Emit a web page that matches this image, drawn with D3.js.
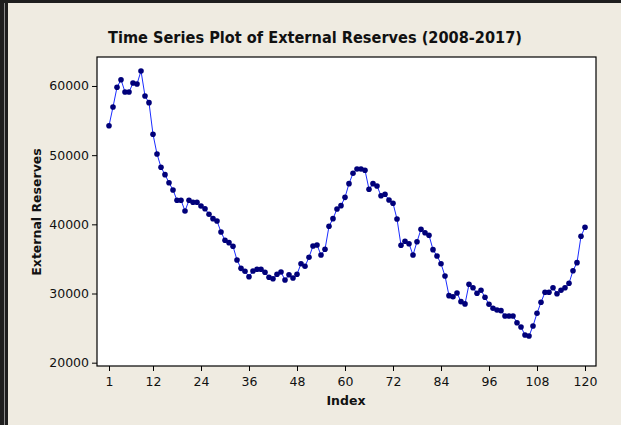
<!DOCTYPE html>
<html>
<head>
<meta charset="utf-8">
<script src="https://cdn.jsdelivr.net/npm/d3@7"></script>
<style>
  body { margin: 0; background: #efebe1; }
  svg { display: block; }
</style>
</head>
<body>
<div id="chart"></div>
<script>
// Monthly external reserves, index 1..120 (2008-2017)
const reserves = [
  54260, 56960, 59810, 60910, 59130, 59130, 60430, 60290, 62170, 58550,
  57590, 53020, 50170, 48250, 47180, 46020, 44970, 43480, 43480, 41930,
  43480, 43190, 43190, 42650, 42260, 41450, 40820, 40480, 38890, 37690,
  37350, 36830, 34850, 33640, 33210, 32430, 33260, 33500, 33500, 33070,
  32350, 32140, 32780, 33110, 31950, 32720, 32240, 32780, 34310, 33930,
  35240, 36870, 37010, 35570, 36390, 39720, 40820, 42220, 42700, 43900,
  45880, 47380, 48000, 48000, 47810, 45070, 45880, 45540, 44140, 44340,
  43520, 43040, 40770, 36970, 37550, 37200, 35570, 37490, 39280, 38790,
  38420, 36340, 35420, 34310, 32530, 29690, 29540, 30080, 28820, 28500,
  31330, 30840, 30030, 30470, 29450, 28440, 27860, 27620, 27520, 26750,
  26750, 26750, 25780, 25160, 24000, 23860, 25310, 27140, 28730, 30180,
  30180, 30840, 29970, 30470, 30840, 31480, 33300, 34460, 38270, 39570
];
const xTicks = [1, 12, 24, 36, 48, 60, 72, 84, 96, 108, 120];
const yTicks = [20000, 30000, 40000, 50000, 60000];

const data = reserves.map((v, i) => ({ index: i + 1, value: v }));

const width = 621, height = 425;
const plot = { left: 97, right: 596, top: 57, bottom: 366 };

const svg = d3.select("#chart")
  .append("svg")
  .attr("width", width)
  .attr("height", height);

// background + frame
svg.append("rect")
  .attr("width", width).attr("height", height)
  .attr("fill", "#efebe1");
svg.append("rect")
  .attr("x", 0).attr("y", 0).attr("width", 8).attr("height", height)
  .attr("fill", "#1e1e1e");
svg.append("line")
  .attr("x1", 4.5).attr("x2", 4.5).attr("y1", 3).attr("y2", height)
  .attr("stroke", "#8a8a8a").attr("stroke-width", 1);
svg.append("line")
  .attr("x1", 0).attr("x2", width).attr("y1", 1.5).attr("y2", 1.5)
  .attr("stroke", "#1e1e1e").attr("stroke-width", 3);

// Scales
const x = d3.scaleLinear()
  .domain([-2, 122.75])
  .range([plot.left, plot.right]);

const y = d3.scaleLinear()
  .domain([19520, 64190])
  .range([plot.bottom, plot.top]);

// plot box
svg.append("rect")
  .attr("x", plot.left).attr("y", plot.top)
  .attr("width", plot.right - plot.left)
  .attr("height", plot.bottom - plot.top)
  .attr("fill", "#ffffff")
  .attr("stroke", "#000").attr("stroke-width", 1.2);

// Axes
const font = "Tahoma, 'DejaVu Sans', Verdana, sans-serif";

const xAxis = svg.append("g")
  .attr("transform", `translate(0,${plot.bottom})`)
  .call(d3.axisBottom(x).tickValues(xTicks).tickSize(5).tickSizeOuter(0));
xAxis.select(".domain").remove();
xAxis.selectAll("text")
  .attr("font-family", font).attr("font-size", 12.5).attr("fill", "#111")
  .attr("dy", "0.95em");

const yAxis = svg.append("g")
  .attr("transform", `translate(${plot.left},0)`)
  .call(d3.axisLeft(y).tickValues(yTicks).tickSize(5).tickSizeOuter(0).tickFormat(d3.format("d")));
yAxis.select(".domain").remove();
yAxis.selectAll("text")
  .attr("font-family", font).attr("font-size", 12.5).attr("fill", "#111");

// Line + points
const line = d3.line()
  .x(d => x(d.index))
  .y(d => y(d.value));

svg.append("path")
  .datum(data)
  .attr("d", line)
  .attr("fill", "none")
  .attr("stroke", "#1a2cff")
  .attr("stroke-width", 1);

svg.selectAll("circle.pt")
  .data(data)
  .join("circle")
    .attr("class", "pt")
    .attr("cx", d => x(d.index))
    .attr("cy", d => y(d.value))
    .attr("r", 2.8)
    .attr("fill", "#00007a");

// Titles
svg.append("text")
  .attr("x", 315).attr("y", 43)
  .attr("text-anchor", "middle")
  .attr("font-family", font).attr("font-weight", "bold").attr("font-size", 15)
  .attr("textLength", 414).attr("lengthAdjust", "spacingAndGlyphs")
  .attr("fill", "#111")
  .text("Time Series Plot of External Reserves (2008-2017)");

svg.append("text")
  .attr("x", 346).attr("y", 405)
  .attr("text-anchor", "middle")
  .attr("font-family", font).attr("font-weight", "bold").attr("font-size", 12.5)
  .attr("fill", "#111")
  .text("Index");

svg.append("text")
  .attr("transform", `translate(41,212) rotate(-90)`)
  .attr("text-anchor", "middle")
  .attr("font-family", font).attr("font-weight", "bold").attr("font-size", 12.5)
  .attr("fill", "#111")
  .text("External Reserves");
</script>
</body>
</html>
